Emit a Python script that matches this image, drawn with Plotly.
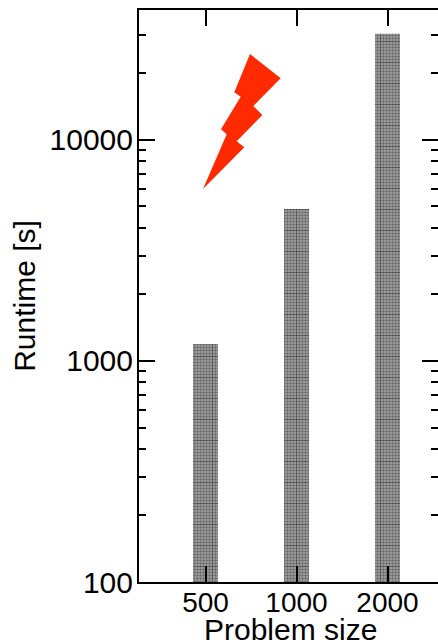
import plotly.graph_objects as go

categories = ["500", "1000", "2000"]
runtimes = [1194, 4870, 30200]
y_major = [100, 1000, 10000]
y_major_text = ["100", "1000", "10000"]
y_minor = [200, 300, 400, 500, 600, 700, 800, 900,
           2000, 3000, 4000, 5000, 6000, 7000, 8000, 9000,
           20000, 30000]
bolt_px = [(250, 54), (280.7, 78.3), (253.3, 106), (262.3, 115), (236.7, 141.3),
           (244.3, 147.3), (203, 189), (226.7, 134.3), (221, 129.3), (240.7, 96.7), (234.3, 92.3)]

W, H = 438, 644
L, T, B = 139, 10, 62
R = 0
FONT = "Liberation Sans, Arial, sans-serif"

def px(p):
    return ((p[0] - L) / (W - L - R), 1 - (p[1] - T) / (H - T - B))

bolt = "M" + " L".join("%.4f,%.4f" % px(p) for p in bolt_px) + " Z"

fig = go.Figure()
fig.add_bar(x=categories, y=runtimes, width=0.275,
            marker=dict(color="#808080", line_width=0,
                        pattern=dict(shape=".", size=3, solidity=0.5,
                                     fgcolor="#282828", bgcolor="#a8a8a8")))
fig.add_bar(x=categories, y=runtimes, width=0.275,
            marker=dict(color="rgba(0,0,0,0)", line_width=0,
                        pattern=dict(shape="+", size=21, solidity=0.06,
                                     fgcolor="#222222", bgcolor="rgba(0,0,0,0)")))
fig.update_layout(
    width=W, height=H, barmode="overlay", showlegend=False,
    margin=dict(l=L, r=R, t=T, b=B, autoexpand=False),
    paper_bgcolor="white", plot_bgcolor="white",
    font=dict(family=FONT, color="black"),
    shapes=[dict(type="path", xref="paper", yref="paper", path=bolt,
                 fillcolor="#ff2a00", line_width=0)],
    annotations=[dict(text="Problem size", font=dict(size=30), showarrow=False,
                      xref="paper", yref="paper", xanchor="center", yanchor="bottom",
                      x=px((290.5, 0))[0], y=px((0, 648))[1])],
    xaxis=dict(type="category", range=[-0.731, 2.555],
               tickvals=categories, ticktext=categories,
               ticks="inside", ticklen=16, tickwidth=2, tickcolor="black",
               showline=True, linewidth=2, linecolor="black", mirror="ticks",
               showgrid=False, zeroline=False, tickfont=dict(size=28),
               ticklabelstandoff=-6),
    yaxis=dict(type="log", range=[2, 4.588],
               tickvals=y_major, ticktext=y_major_text,
               ticks="inside", ticklen=16, tickwidth=2, tickcolor="black",
               minor=dict(tickvals=y_minor, ticks="inside", ticklen=7, tickwidth=1.5,
                          tickcolor="black", showgrid=False),
               showline=True, linewidth=2, linecolor="black", mirror="ticks",
               showgrid=False, zeroline=False, tickfont=dict(size=30),
               ticklabelstandoff=-2,
               title=dict(text="Runtime [s]", font=dict(size=30), standoff=5)),
)
fig.write_html("out.html", post_script="document.body.style.margin='0';",
               config={"displayModeBar": False})
